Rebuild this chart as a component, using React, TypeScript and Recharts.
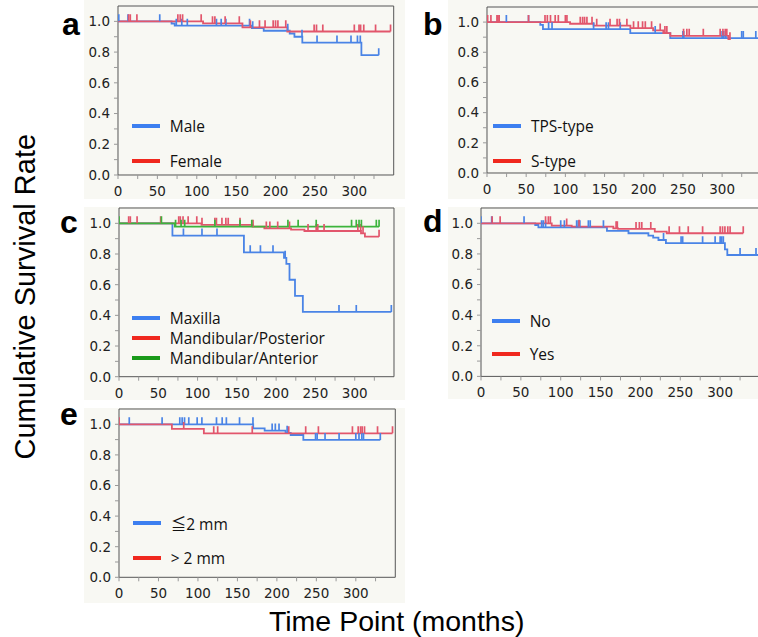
import React from 'react';
import { ComposedChart, Line, Scatter, XAxis, YAxis, ReferenceArea, Legend } from 'recharts';

// ---------- axis ticks ----------
const xTicks = [0, 25, 50, 75, 100, 125, 150, 175, 200, 225, 250, 275, 300, 325];
const xLabelTicks = [0, 50, 100, 150, 200, 250, 300];
const yTicks = [0, 0.1, 0.2, 0.3, 0.4, 0.5, 0.6, 0.7, 0.8, 0.9, 1.0];
const yLabelTicks = [0, 0.2, 0.4, 0.6, 0.8, 1.0];

// ---------- panel a: sex ----------
const maleTimes = [0, 68, 72, 170, 185, 218, 224, 234, 309, 331];
const maleSurv = [1, 0.986, 0.972, 0.956, 0.939, 0.921, 0.9, 0.862, 0.78, 0.78];
const maleCensor = [1, 12.7, 53, 74, 81, 88, 125, 131, 137, 167, 171, 215.5, 233.6, 252.7, 278, 295.8, 304, 307.6, 331];
const femaleTimes = [0, 108, 158, 215, 346];
const femaleSurv = [1, 0.987, 0.961, 0.934, 0.934];
const femaleCensor = [13.5, 15.6, 24, 76, 79, 82, 105.6, 120, 123, 136, 154, 168, 179.6, 186.7, 197, 200, 203, 213, 249, 252, 260, 300, 306, 308, 312, 327, 346];

// ---------- panel b: implant type ----------
const tpsTimes = [0, 68, 71.4, 182.8, 233.8, 348];
const tpsSurv = [1, 0.982, 0.953, 0.927, 0.894, 0.894];
const tpsCensor = [24.7, 53, 78.6, 83, 136, 152, 155, 170, 214.6, 250, 251, 300, 302, 304.7, 325, 327, 343];
const sTimes = [0, 106, 136, 183, 212, 225, 234, 308, 311];
const sSurv = [1, 0.989, 0.976, 0.96, 0.945, 0.927, 0.909, 0.887, 0.887];
const sCensor = [0.8, 5, 12.7, 14, 15.5, 53, 74, 77, 81, 87, 91, 100, 102, 119, 122, 124.5, 127.5, 134, 140, 157, 166, 169, 178.5, 187, 193, 198.5, 202, 210, 221, 227, 229.5, 250.8, 255, 258, 276, 297.5, 301, 304, 306, 310];

// ---------- panel c: location ----------
const maxTimes = [0, 68, 159, 210, 213, 217, 224, 234, 346.6];
const maxSurv = [1, 0.92, 0.811, 0.775, 0.735, 0.632, 0.527, 0.422, 0.422];
const maxCensor = [82, 105.6, 124.7, 167, 180, 196, 211.5, 280, 302, 346.6];
const mpTimes = [0, 105, 170, 185, 219, 236, 308, 313, 331];
const mpSurv = [1, 0.99, 0.978, 0.967, 0.959, 0.95, 0.935, 0.913, 0.913];
const mpCensor = [12.3, 14.4, 23, 53, 76, 78, 81.5, 88, 99, 105.6, 122, 124, 131, 136, 139, 154, 170.6, 187.5, 192, 202, 217, 240.6, 251, 253, 261, 304, 307.6, 310.6, 331];
const maTimes = [0, 71, 331];
const maSurv = [1, 0.978, 0.978];
const maCensor = [0, 54, 72, 79, 83.6, 122, 154, 169, 215, 228, 251, 296, 302, 305.5, 308.5, 327.5, 331];

// ---------- panel d ----------
const noTimes = [0, 68, 72, 158, 185, 210, 216, 222.6, 232, 306, 309, 348];
const noSurv = [1, 0.989, 0.974, 0.95, 0.935, 0.92, 0.907, 0.891, 0.87, 0.83, 0.793, 0.793];
const noCensor = [0, 13.4, 54, 76, 78, 81, 100, 104.6, 120, 122, 124, 134.7, 137, 153.6, 229, 251, 253, 278, 293.7, 300, 302, 304, 325, 345];
const yesTimes = [0, 88.7, 113.8, 166, 172, 218, 233, 329];
const yesSurv = [1, 0.985, 0.978, 0.967, 0.963, 0.946, 0.935, 0.935];
const yesCensor = [14, 24, 81, 84.5, 87, 107.5, 123, 169.5, 171, 194.5, 198.7, 201.7, 213, 236, 249, 260, 278, 300, 303, 306, 309.6, 312.5, 329];

// ---------- panel e ----------
const le2Times = [0, 170, 184.5, 211, 217.5, 233.5, 331];
const le2Surv = [1, 0.974, 0.959, 0.944, 0.93, 0.898, 0.898];
const le2Censor = [13, 54.6, 77, 80, 83, 88.4, 99, 105, 123.5, 130.7, 136, 152.7, 169.7, 194, 198, 202.7, 213, 249, 251, 261, 278.8, 300, 304, 307.6, 309.7, 331];
const gt2Times = [0, 67, 107.5, 346.5];
const gt2Surv = [1, 0.97, 0.941, 0.941];
const gt2Censor = [0, 82, 120, 125, 168.8, 215, 236.5, 252.6, 295.7, 303, 306, 308, 311, 327.5, 346.5];

// ---------- styles ----------
const BLUE = '#4a84e6';
const RED = '#e2566c';
const GREEN = '#3cb43c';
const LBLUE = '#3d7ff0';
const LRED = '#f0281e';
const LGREEN = '#1a9a1a';
const BG = '#f8f8f3';

type Series = { key: string; label: string; times: number[]; surv: number[]; censor: number[]; color: string; legendColor: string };

const survAt = (times: number[], surv: number[], t: number) => {
  let s = surv[0];
  for (let i = 0; i < times.length; i++) if (times[i] <= t) s = surv[i];
  return s;
};

const mk = (key: string, label: string, times: number[], surv: number[], censor: number[], color: string, legendColor: string): Series => ({ key, label, times, surv, censor, color, legendColor });

type Panel = {
  id: string;
  plot: { l: number; t: number; r: number; b: number };
  series: Series[];
  legend: { dx: number; cy: number; row: number };
};

const panels: Panel[] = [
  {
    id: 'a',
    plot: { l: 118.3, t: 6, r: 394, b: 175 },
    series: [mk('male', 'Male', maleTimes, maleSurv, maleCensor, BLUE, LBLUE), mk('female', 'Female', femaleTimes, femaleSurv, femaleCensor, RED, LRED)],
    legend: { dx: 13.4, cy: 119.7, row: 35 },
  },
  {
    id: 'b',
    plot: { l: 486.7, t: 6.7, r: 761, b: 172.7 },
    series: [mk('tps', 'TPS-type', tpsTimes, tpsSurv, tpsCensor, BLUE, LBLUE), mk('s', 'S-type', sTimes, sSurv, sCensor, RED, LRED)],
    legend: { dx: 6.3, cy: 119, row: 35 },
  },
  {
    id: 'c',
    plot: { l: 119.3, t: 208.3, r: 394.3, b: 377 },
    series: [
      mk('max', 'Maxilla', maxTimes, maxSurv, maxCensor, BLUE, LBLUE),
      mk('mp', 'Mandibular/Posterior', mpTimes, mpSurv, mpCensor, RED, LRED),
      mk('ma', 'Mandibular/Anterior', maTimes, maSurv, maCensor, GREEN, LGREEN),
    ],
    legend: { dx: 12.4, cy: 109.4, row: 20 },
  },
  {
    id: 'd',
    plot: { l: 481, t: 208.3, r: 760, b: 376.7 },
    series: [mk('no', 'No', noTimes, noSurv, noCensor, BLUE, LBLUE), mk('yes', 'Yes', yesTimes, yesSurv, yesCensor, RED, LRED)],
    legend: { dx: 10.7, cy: 112.4, row: 33.6 },
  },
  {
    id: 'e',
    plot: { l: 118.7, t: 409, r: 395, b: 577.3 },
    series: [mk('le2', '≦2 mm', le2Times, le2Surv, le2Censor, BLUE, LBLUE), mk('gt2', '> 2 mm', gt2Times, gt2Surv, gt2Censor, RED, LRED)],
    legend: { dx: 14, cy: 114.3, row: 35 },
  },
];

const bgRects = [
  { l: 84, t: 0, w: 321, h: 199 },
  { l: 448, t: 0, w: 310, h: 199 },
  { l: 84, t: 207, w: 321, h: 193 },
  { l: 448, t: 207, w: 310, h: 192 },
  { l: 84, t: 408, w: 321, h: 195 },
];

const letters = [
  { id: 'a', x: 62, y: 35 },
  { id: 'b', x: 423, y: 35 },
  { id: 'c', x: 60, y: 233 },
  { id: 'd', x: 423, y: 232 },
  { id: 'e', x: 60, y: 425 },
];

const TICK_FONT = "'DejaVu Sans', sans-serif";

const XTick = (props: any) => {
  const { x, y, payload } = props;
  if (!xLabelTicks.includes(payload.value)) return <g />;
  return (
    <text x={x} y={y + 15} textAnchor="middle" fontSize={13.5} fontFamily={TICK_FONT} fill="#222">
      {payload.value}
    </text>
  );
};

const YTick = (props: any) => {
  const { x, y, payload } = props;
  const v = payload.value as number;
  if (!yLabelTicks.some((t) => Math.abs(t - v) < 1e-6)) return <g />;
  return (
    <text x={x} y={y} dy="0.36em" textAnchor="end" fontSize={13.5} fontFamily={TICK_FONT} fill="#222">
      {v.toFixed(1)}
    </text>
  );
};

const censorShape = (color: string) => (p: any) => (
  <line x1={p.cx} x2={p.cx} y1={p.cy} y2={p.cy - 7} stroke={color} strokeWidth={1.7} />
);

const LEFT = 40;
const TOP = 2;
const RIGHT = 6;
const XH = 26;

const PanelChart = ({ panel }: { panel: Panel }) => {
  const { plot, series, legend } = panel;
  const w = plot.r - plot.l + LEFT + RIGHT;
  const h = plot.b - plot.t + TOP + XH;
  const legendContent = () => (
    <div style={{ fontFamily: "'Open Sans', 'Noto Sans CJK JP', sans-serif", fontSize: 15.5, color: '#111' }}>
      {series.map((s) => (
        <div key={s.key} style={{ display: 'flex', alignItems: 'center', height: legend.row, whiteSpace: 'nowrap' }}>
          <span style={{ display: 'inline-block', width: 28, height: 4, background: s.legendColor, marginRight: 10 }} />
          <span>{s.label}</span>
        </div>
      ))}
    </div>
  );
  return (
    <div style={{ position: 'absolute', left: plot.l - LEFT, top: plot.t - TOP, width: w, height: h }}>
      <ComposedChart width={w} height={h} margin={{ top: TOP, right: RIGHT, bottom: 0, left: 0 }}>
        <XAxis
          type="number"
          dataKey="t"
          domain={[0, 350]}
          ticks={xTicks}
          interval={0}
          tick={XTick}
          tickSize={4}
          tickLine={{ stroke: '#999' }}
          axisLine={false}
          height={XH}
          allowDataOverflow
        />
        <YAxis
          type="number"
          dataKey="s"
          domain={[0, 1.1]}
          ticks={yTicks}
          interval={0}
          tick={YTick}
          tickSize={4}
          tickMargin={4}
          tickLine={{ stroke: '#999' }}
          axisLine={false}
          width={LEFT}
          allowDataOverflow
        />
        <ReferenceArea x1={0} x2={350} y1={0} y2={1.1} fill="none" stroke="#555" strokeWidth={1} ifOverflow="visible" />
        {series.map((s) => (
          <Line
            key={s.key + '-line'}
            data={s.times.map((t, i) => ({ t, s: s.surv[i] }))}
            dataKey="s"
            type="stepAfter"
            stroke={s.color}
            strokeWidth={1.8}
            dot={false}
            activeDot={false}
            isAnimationActive={false}
            legendType="none"
          />
        ))}
        {series.map((s) => (
          <Scatter
            key={s.key + '-cens'}
            data={s.censor.map((t) => ({ t, s: survAt(s.times, s.surv, t) }))}
            shape={censorShape(s.color)}
            isAnimationActive={false}
            legendType="none"
          />
        ))}
        <Legend
          layout="vertical"
          align="center"
          verticalAlign="middle"
          content={legendContent}
          wrapperStyle={{ left: LEFT + legend.dx, top: TOP + legend.cy - legend.row / 2, width: 'auto', height: 'auto' }}
        />
      </ComposedChart>
    </div>
  );
};

export default function App() {
  return (
    <div style={{ position: 'fixed', left: 0, top: 0, width: 758, height: 637, overflow: 'hidden', background: '#fff' }}>
      {bgRects.map((r, i) => (
        <div key={i} style={{ position: 'absolute', left: r.l, top: r.t, width: r.w, height: r.h, background: BG }} />
      ))}
      {panels.map((p) => (
        <PanelChart key={p.id} panel={p} />
      ))}
      <svg width={758} height={637} style={{ position: 'absolute', left: 0, top: 0, pointerEvents: 'none' }}>
        {letters.map((l) => (
          <text key={l.id} x={l.x} y={l.y} fontFamily="'Liberation Sans', Arial, sans-serif" fontWeight="bold" fontSize={32} fill="#000">
            {l.id}
          </text>
        ))}
        <text
          transform="translate(35, 296.7) rotate(-90)"
          textAnchor="middle"
          fontFamily="'Liberation Sans', Arial, sans-serif"
          fontSize={29}
          fill="#000"
        >
          Cumulative Survival Rate
        </text>
        <text x={396.7} y={631} textAnchor="middle" fontFamily="'Liberation Sans', Arial, sans-serif" fontSize={28.5} fill="#000">
          Time Point (months)
        </text>
      </svg>
    </div>
  );
}
